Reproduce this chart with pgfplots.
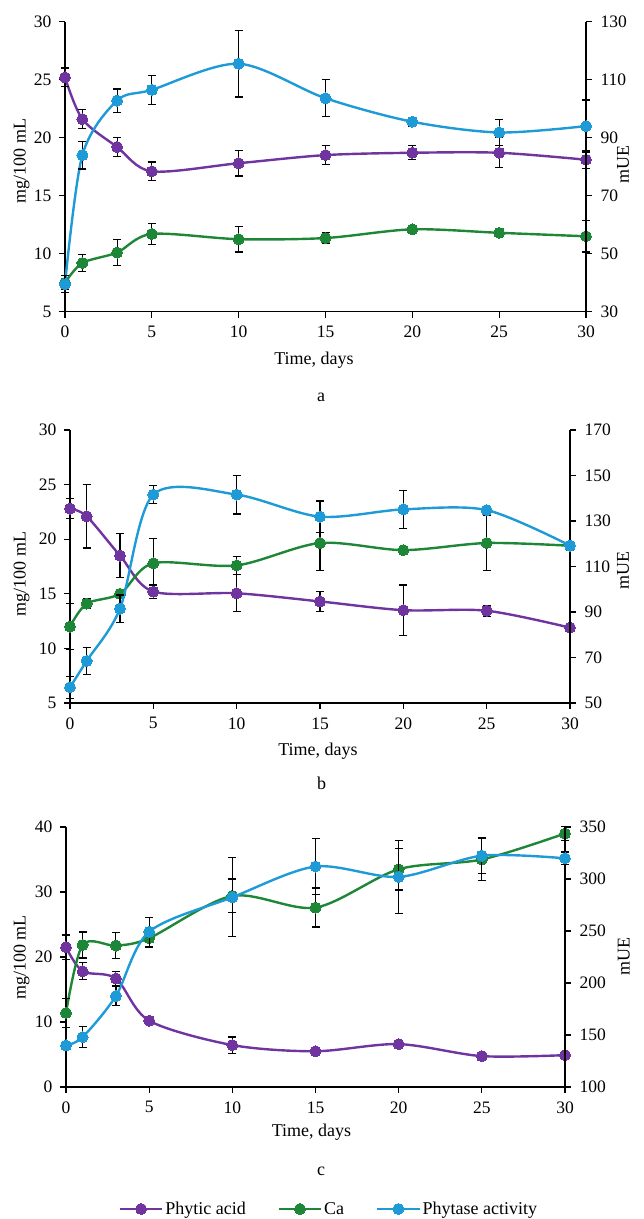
\documentclass[border=0pt]{standalone}
\usepackage{fontspec}
\setmainfont{Liberation Serif}
\usepackage{pgfplots}
\pgfplotsset{compat=1.18}

\definecolor{cpurple}{RGB}{112,52,160}
\definecolor{cgreen}{RGB}{30,135,55}
\definecolor{cblue}{RGB}{30,155,215}

\pgfplotsset{
  base/.style={
    scale only axis, clip=false,
    xmin=0, xmax=30, xtick={0,5,10,15,20,25,30},
    axis line style={-, line width=1.5pt, black},
    tick style={black, line width=1.3pt},
    major tick length=6pt, tick align=outside,
    tick label style={font=\fontsize{17.5}{17.5}\selectfont},
    xticklabel style={yshift=-5pt},
    label style={font=\fontsize{18}{18}\selectfont},
    /pgf/number format/assume math mode=true,
  },
  lhs/.style={base, axis x line*=bottom, axis y line*=left,
    yticklabel style={xshift=-4pt}},
  rhs/.style={base, axis x line=none, axis y line*=right,
    yticklabel style={xshift=5pt}},
  sp/.style={color=cpurple, line width=2.4pt, smooth, mark=*, mark size=5.5pt,
    mark options={fill=cpurple, line width=0pt}},
  sg/.style={color=cgreen, line width=2.4pt, smooth, mark=*, mark size=5.5pt,
    mark options={fill=cgreen, line width=0pt}},
  sb/.style={color=cblue, line width=2.4pt, smooth, mark=*, mark size=5.5pt,
    mark options={fill=cblue, line width=0pt}},
  eb/.style={error bars/y dir=both, error bars/y explicit,
    error bars/error bar style={black, line width=1.2pt},
    error bars/error mark options={black, rotate=90, mark size=4pt, line width=1.2pt}},
}

\begin{document}
\begin{tikzpicture}
\useasboundingbox (0,0) rectangle (643pt,1219pt);

% ---- a ----
\begin{axis}[lhs, at={(65pt,907.3pt)}, anchor=south west, width=521pt, height=290pt,
  ymin=5, ymax=30, ytick={5,10,...,30},
  xlabel={Time, days}, ylabel={mg/100 mL},
  xlabel style={at={(axis description cs:0.478,-0.1666)}, anchor=center},
  ylabel style={at={(axis description cs:-0.0831,0.52)}, anchor=center}]
\addplot[sp, eb] coordinates {
  (0,25.2) +- (0,0.8) (1,21.6) +- (0,0.8) (3,19.2) +- (0,0.8)
  (5,17.1) +- (0,0.8) (10,17.8) +- (0,1.1) (15,18.5) +- (0,0.8)
  (20,18.7) +- (0,0.6) (25,18.7) +- (0,1.3) (30,18.1) +- (0,0.75)};
\addplot[sg, eb] coordinates {
  (0,7.5) +- (0,0.6) (1,9.2) +- (0,0.75) (3,10.1) +- (0,1.15)
  (5,11.7) +- (0,0.9) (10,11.25) +- (0,1.1) (15,11.35) +- (0,0.45)
  (20,12.1) +- (0,0.3) (25,11.8) +- (0,0.3) (30,11.5) +- (0,1.35)};
\end{axis}
\begin{axis}[rhs, at={(65pt,907.3pt)}, anchor=south west, width=521pt, height=290pt,
  ymin=30, ymax=130, ytick={30,50,...,130},
  ylabel={mUE},
  ylabel style={at={(axis description cs:1.071,0.506)}, anchor=center}]
\addplot[sb, eb] coordinates {
  (0,39.5) +- (0,3) (1,84) +- (0,4.8) (3,102.8) +- (0,4)
  (5,106.5) +- (0,5) (10,115.5) +- (0,11.5) (15,103.6) +- (0,6.4)
  (20,95.5) +- (0,1.5) (25,91.8) +- (0,4.6) (30,94) +- (0,9)};
\end{axis}

% ---- b ----
\begin{axis}[lhs, at={(70pt,516pt)}, anchor=south west, width=500pt, height=273pt,
  ymin=5, ymax=30, ytick={5,10,...,30},
  xlabel={Time, days}, ylabel={mg/100 mL},
  xlabel style={at={(axis description cs:0.496,-0.178)}, anchor=center},
  ylabel style={at={(axis description cs:-0.0966,0.4725)}, anchor=center}]
\addplot[sp, eb] coordinates {
  (0,22.8) +- (0,0.9) (1,22.1) +- (0,2.9) (3,18.5) +- (0,2)
  (5,15.2) +- (0,0.6) (10,15.05) +- (0,1.7) (15,14.3) +- (0,0.9)
  (20,13.5) +- (0,2.3) (25,13.45) +- (0,0.5) (30,11.9) +- (0,0.3)};
\addplot[sg, eb] coordinates {
  (0,12.0) +- (0,2.1) (1,14.1) +- (0,0.45) (3,15.0) +- (0,0.4)
  (5,17.8) +- (0,2.3) (10,17.6) +- (0,0.85) (15,19.65) +- (0,2.5)
  (20,19.0) +- (0,0.3) (25,19.65) +- (0,2.5) (30,19.4) +- (0,0.3)};
\end{axis}
\begin{axis}[rhs, at={(70pt,516pt)}, anchor=south west, width=500pt, height=273pt,
  ymin=50, ymax=170, ytick={50,70,...,170},
  ylabel={mUE},
  ylabel style={at={(axis description cs:1.106,0.4835)}, anchor=center}]
\addplot[sb, eb] coordinates {
  (0,56.9) +- (0,4.8) (1,68.5) +- (0,6) (3,91.5) +- (0,6)
  (5,141.6) +- (0,4) (10,141.6) +- (0,8.5) (15,131.9) +- (0,6.9)
  (20,135.1) +- (0,8.4) (25,134.8) +- (0,1.5) (30,119.2) +- (0,1.5)};
\end{axis}

% ---- c ----
\begin{axis}[lhs, at={(66pt,132pt)}, anchor=south west, width=499pt, height=260pt,
  ymin=0, ymax=40, ytick={0,10,...,40},
  xlabel={Time, days}, ylabel={mg/100 mL},
  xlabel style={at={(axis description cs:0.492,-0.172)}, anchor=center},
  ylabel style={at={(axis description cs:-0.0888,0.498)}, anchor=center},
  legend columns=3,
  legend style={at={(axis description cs:0.527,-0.469)}, anchor=center,
    draw=none, fill=none, font=\fontsize{18}{18}\selectfont,
    /tikz/every even column/.append style={column sep=30pt}},
  legend image code/.code={\draw[mark repeat=2, mark phase=2, #1]
    plot coordinates {(0pt,0pt) (21pt,0pt) (42pt,0pt)};}]
\addplot[sp, eb] coordinates {
  (0,21.5) +- (0,1.9) (1,17.8) +- (0,1.3) (3,16.7) +- (0,1.1)
  (5,10.2) +- (0,0.4) (10,6.45) +- (0,1.25) (15,5.5) +- (0,0.3)
  (20,6.6) +- (0,0.3) (25,4.75) +- (0,0.4) (30,4.9) +- (0,0.3)};
\addlegendentry{Phytic acid}
\addplot[sg, eb] coordinates {
  (0,11.4) +- (0,2.2) (1,21.85) +- (0,2) (3,21.75) +- (0,2)
  (5,22.9) +- (0,1.4) (10,29.4) +- (0,2.6) (15,27.6) +- (0,3)
  (20,33.5) +- (0,3.2) (25,35.0) +- (0,3.2) (30,39.0) +- (0,1.1)};
\addlegendentry{Ca}
\addlegendimage{sb}
\addlegendentry{Phytase activity}
\end{axis}
\begin{axis}[rhs, at={(66pt,132pt)}, anchor=south west, width=499pt, height=260pt,
  ymin=100, ymax=350, ytick={100,150,...,350},
  ylabel={mUE},
  ylabel style={at={(axis description cs:1.118,0.501)}, anchor=center}]
\addplot[sb, eb] coordinates {
  (0,140) +- (0,3) (1,148) +- (0,10) (3,187.5) +- (0,9.5)
  (5,249.3) +- (0,14) (10,282.4) +- (0,38) (15,312) +- (0,27)
  (20,302) +- (0,35) (25,322.4) +- (0,17) (30,319.9) +- (0,6)};
\end{axis}

\node[font=\fontsize{18}{18}\selectfont] at (321pt,822pt) {a};
\node[font=\fontsize{18}{18}\selectfont] at (321.5pt,436pt) {b};
\node[font=\fontsize{18}{18}\selectfont] at (321pt,47.3pt) {c};
\end{tikzpicture}
\end{document}
